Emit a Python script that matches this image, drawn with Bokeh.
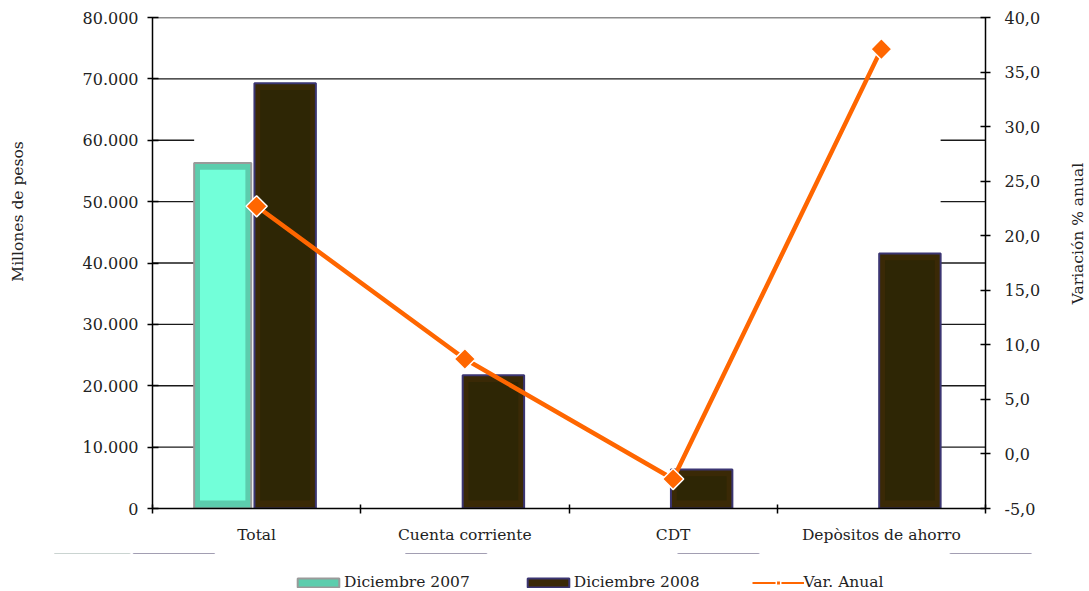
import math
from bokeh.plotting import figure
from bokeh.layouts import row, column
from bokeh.models import (FixedTicker, LinearAxis, Range1d, Legend, LegendItem, Label,
                          BoxAnnotation)
from bokeh.embed import file_html
from bokeh.resources import INLINE

# ---- data ----
categories = ["Total", "Cuenta corriente", "CDT", "Depòsitos de ahorro"]
dic2007 = [56300, float("nan"), float("nan"), float("nan")]
dic2008 = [69300, 21700, 6350, 41550]
var_anual = [22.7, 8.7, -2.3, 37.1]

left_ticks = [0, 10000, 20000, 30000, 40000, 50000, 60000, 70000, 80000]
left_tick_labels = ["0", "10.000", "20.000", "30.000", "40.000", "50.000",
                    "60.000", "70.000", "80.000"]
right_ticks = [-5, 0, 5, 10, 15, 20, 25, 30, 35, 40]
right_tick_labels = ["-5,0", "0,0", "5,0", "10,0", "15,0", "20,0", "25,0",
                     "30,0", "35,0", "40,0"]
left_title = "Millones de pesos"
right_title = "Variación % anual"
series_names = ["Diciembre 2007", "Diciembre 2008", "Var. Anual"]

FONT = "DejaVu Serif"
TXT = "#222222"
W07, OFF07 = 0.274, -0.163
W08, OFF08 = 0.295, 0.137
TOTAL_W = 1089
TOP_H = 553
LEG_H = 591 - TOP_H
LEFT_W, RIGHT_W = 34, 24

C07 = dict(fill_color="#5ccdad", line_color="#9a9a9a", line_width=2)
C07_IN = "#72ffd9"
C08 = dict(fill_color="#3a2906", line_color="#3b3572", line_width=2)
C08_IN = "#2e2605"
ORANGE = "#ff6600"
CMARK = dict(marker="square", angle=math.pi / 4, size=15, fill_color=ORANGE,
             line_color="white", line_width=1.5)

centers = [i + 0.5 for i in range(len(categories))]
x07 = [c + OFF07 for c, v in zip(centers, dic2007) if not math.isnan(v)]
v07 = [v for v in dic2007 if not math.isnan(v)]
x08 = [c + OFF08 for c in centers]

p = figure(frame_width=833, frame_height=491, title=None,
           x_range=Range1d(0, len(categories)), y_range=Range1d(0, 80000),
           output_backend="svg", toolbar_location=None,
           min_border_left=152 - LEFT_W, min_border_top=17,
           min_border_right=TOTAL_W - 152 - 833 - RIGHT_W,
           min_border_bottom=TOP_H - 17 - 491)
p.extra_y_ranges = {"pct": Range1d(-5, 40)}
p.outline_line_color = None
p.xgrid.visible = False
p.ygrid.visible = False

# ---- gridlines (hidden behind the bar block where bars reach above) ----
max_bar = max(v for v in dic2008 + dic2007 if not math.isnan(v))
x_left_block = centers[0] + OFF07 - W07 / 2
x_right_block = centers[-1] + OFF08 + W08 / 2
gx0, gx1, gy = [], [], []
for t in left_ticks[1:]:
    if t > max_bar:
        gx0.append(0); gx1.append(len(categories)); gy.append(t)
    else:
        gx0 += [0, x_right_block]
        gx1 += [x_left_block, len(categories)]
        gy += [t, t]
p.segment(x0=gx0, x1=gx1, y0=gy, y1=gy, line_color="#1a1a1a", line_width=1.3)

# ---- bars ----
bev_v = 1100
bev_x = 0.028
p.vbar(x=x07, top=v07, bottom=0, width=W07, **C07)
p.vbar(x=x07, top=[v - bev_v for v in v07], bottom=bev_v * 1.2,
       width=W07 - 2 * bev_x, fill_color=C07_IN, line_color=None)
p.vbar(x=x08, top=dic2008, bottom=0, width=W08, **C08)
p.vbar(x=x08, top=[v - bev_v for v in dic2008], bottom=bev_v * 1.2,
       width=W08 - 2 * bev_x, fill_color=C08_IN, line_color=None)

# ---- line ----
p.line(x=centers, y=var_anual, y_range_name="pct", line_color=ORANGE,
       line_width=4.5)
p.scatter(x=centers, y=var_anual, y_range_name="pct", **CMARK)

# ---- axes ----
xa = p.xaxis[0]
xa.ticker = FixedTicker(ticks=centers, minor_ticks=list(range(len(categories) + 1)))
xa.major_label_overrides = {c: n for c, n in zip(centers, categories)}
xa.major_tick_in = 0
xa.major_tick_out = 0
xa.minor_tick_in = 4
xa.minor_tick_out = 5
xa.minor_tick_line_color = "black"
xa.minor_tick_line_width = 1.5
xa.axis_line_width = 1.5
xa.major_label_standoff = 12
xa.major_label_text_font = FONT
xa.major_label_text_font_size = "15.5px"
xa.major_label_text_color = TXT

ya = p.yaxis[0]
ya.ticker = FixedTicker(ticks=left_ticks)
ya.major_label_overrides = {t: s for t, s in zip(left_ticks, left_tick_labels)}
ya.minor_tick_line_color = None
ya.major_tick_in = 6
ya.major_tick_out = 5
ya.major_tick_line_width = 1.5
ya.axis_line_width = 1.5
ya.major_label_standoff = 9
ya.major_label_text_font = FONT
ya.major_label_text_font_size = "16px"
ya.major_label_text_color = TXT

ra = LinearAxis(y_range_name="pct", ticker=FixedTicker(ticks=right_ticks))
ra.major_label_overrides = {t: s for t, s in zip(right_ticks, right_tick_labels)}
ra.minor_tick_line_color = None
ra.major_tick_in = 5
ra.major_tick_out = 5
ra.major_tick_line_width = 1.5
ra.axis_line_width = 1.5
ra.major_label_standoff = 14
ra.major_label_text_font = FONT
ra.major_label_text_font_size = "16px"
ra.major_label_text_color = TXT
p.add_layout(ra, "right")


def bare_fig(w, h, y_range=(0, 1)):
    f = figure(frame_width=w, frame_height=h, min_border=0, title=None,
               x_range=Range1d(0, len(categories)), y_range=Range1d(*y_range),
               x_axis_location=None, y_axis_location=None,
               output_backend="svg", toolbar_location=None)
    f.outline_line_color = None
    f.grid.visible = False
    return f


# ---- axis titles in narrow side figures ----
def title_fig(w, text, cx, cy):
    f = bare_fig(w, TOP_H)
    f.add_layout(Label(x=cx, y=TOP_H - cy, x_units="screen", y_units="screen",
                       text=text, angle=math.pi / 2, text_align="center",
                       text_baseline="middle", text_font=FONT,
                       text_font_size="15.5px", text_color=TXT))
    return f


left_fig = title_fig(LEFT_W, left_title, 17, 194)
right_fig = title_fig(RIGHT_W, right_title, 12, 216)

# ---- legend strip: same series kept out of view, legend in view ----
lf = bare_fig(TOTAL_W, LEG_H, y_range=(-2 * max_bar, -max_bar))
l07 = lf.vbar(x=x07, top=v07, bottom=0, width=W07, **C07)
l08 = lf.vbar(x=x08, top=dic2008, bottom=0, width=W08, **C08)
lln = lf.line(x=centers, y=var_anual, line_color=ORANGE, line_width=2)
lsc = lf.scatter(x=centers, y=var_anual, **CMARK)
lf.add_layout(BoxAnnotation(fill_color="white", fill_alpha=1.0, line_color=None))
legend = Legend(items=[LegendItem(label=series_names[0], renderers=[l07]),
                       LegendItem(label=series_names[1], renderers=[l08]),
                       LegendItem(label=series_names[2], renderers=[lln, lsc])],
                orientation="horizontal", location=(292, 0),
                border_line_color=None, background_fill_alpha=0,
                padding=0, margin=0, spacing=52, glyph_width=52, glyph_height=11,
                label_standoff=0, label_text_font=FONT,
                label_text_font_size="15.5px", label_height=14,
                label_text_color=TXT)
lf.add_layout(legend)

layout = column(row(left_fig, p, right_fig), lf)
open("out.html", "w").write(file_html(layout, INLINE))
